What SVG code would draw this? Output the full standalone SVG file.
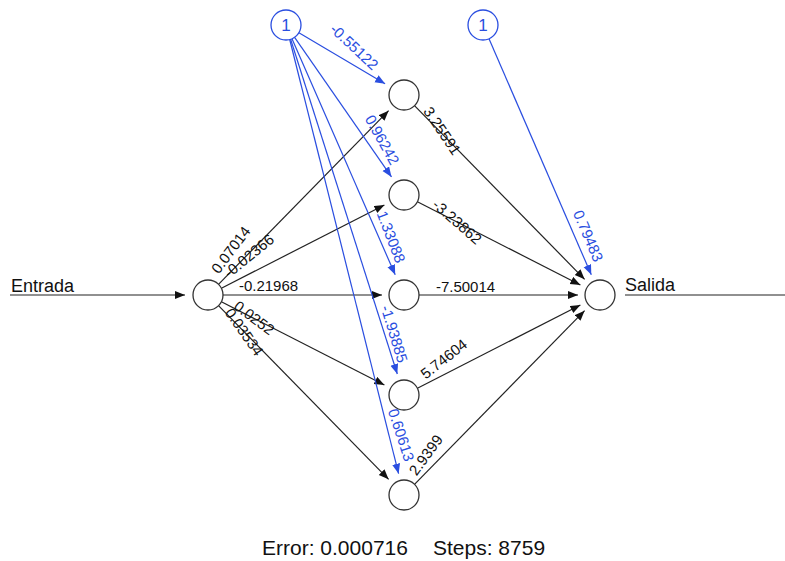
<svg xmlns="http://www.w3.org/2000/svg" width="785" height="561" viewBox="0 0 785 561">
  <defs>
    <marker id="arrow-k" markerUnits="userSpaceOnUse" markerWidth="11" markerHeight="9" refX="10" refY="4" orient="auto">
      <path d="M0,0 L10,4 L0,8 z" fill="#111"/>
    </marker>
    <marker id="arrow-b" markerUnits="userSpaceOnUse" markerWidth="11" markerHeight="9" refX="10" refY="4" orient="auto">
      <path d="M0,0 L10,4 L0,8 z" fill="#2a4ee0"/>
    </marker>
    <style>
      .node { fill: #fff; stroke: #333; stroke-width: 1.3; }
      .bias { fill: #fff; stroke: #2a4ee0; stroke-width: 1.3; }
      .syn { stroke: #222; stroke-width: 1.2; fill: none; marker-end: url(#arrow-k); }
      .bsyn { stroke: #2a4ee0; stroke-width: 1.2; fill: none; marker-end: url(#arrow-b); }
      .plain { stroke: #222; stroke-width: 1.2; fill: none; }
      .w { font-family: "Liberation Sans", Arial, sans-serif; font-size: 15px; fill: #111; text-anchor: middle; }
      .bw { font-family: "Liberation Sans", Arial, sans-serif; font-size: 15px; fill: #2a4ee0; text-anchor: middle; }
      .io { font-family: "Liberation Sans", Arial, sans-serif; font-size: 18px; fill: #111; }
      .one { font-family: "Liberation Sans", Arial, sans-serif; font-size: 17px; fill: #2a4ee0; text-anchor: middle; }
      .foot { font-family: "Liberation Sans", Arial, sans-serif; font-size: 21px; fill: #111; }
    </style>
  </defs>
  <rect width="785" height="561" fill="#fff"/>

  <!-- connectors -->
  <g id="connectors">
    <!-- input line and output line -->
    <line class="syn" x1="10" y1="295" x2="185" y2="295"/>
    <line class="plain" x1="625" y1="295" x2="785" y2="295"/>
    <!-- input to hidden -->
    <line class="syn" x1="218.5" y1="284.3" x2="388.6" y2="110.7"/>
    <line class="syn" x1="221.4" y1="288.2" x2="384.4" y2="205"/>
    <line class="syn" x1="223" y1="295" x2="382" y2="295"/>
    <line class="syn" x1="221.4" y1="301.8" x2="384.4" y2="385"/>
    <line class="syn" x1="218.5" y1="305.7" x2="388.6" y2="479.3"/>
    <!-- hidden to output -->
    <line class="syn" x1="414.5" y1="105.7" x2="584.6" y2="279.3"/>
    <line class="syn" x1="417.4" y1="201.8" x2="580.4" y2="285"/>
    <line class="syn" x1="419" y1="295" x2="578" y2="295"/>
    <line class="syn" x1="417.4" y1="388.2" x2="580.4" y2="305"/>
    <line class="syn" x1="414.5" y1="484.3" x2="584.6" y2="310.7"/>
    <!-- bias to hidden -->
    <line class="bsyn" x1="298.9" y1="32.7" x2="385.1" y2="83.8"/>
    <line class="bsyn" x1="294.6" y1="37.3" x2="391.5" y2="176.9"/>
    <line class="bsyn" x1="292" y1="38.7" x2="395.2" y2="274.8"/>
    <line class="bsyn" x1="290.6" y1="39.3" x2="397.3" y2="374"/>
    <line class="bsyn" x1="289.7" y1="39.5" x2="398.6" y2="473.7"/>
    <!-- bias to output -->
    <line class="bsyn" x1="489" y1="38.8" x2="591.3" y2="274.8"/>
  </g>

  <!-- weight labels -->
  <g id="weights">
    <text class="w" transform="translate(231,250) rotate(-53)" y="5">0.07014</text>
    <text class="w" transform="translate(249,256) rotate(-39)" y="5">-0.02366</text>
    <text class="w" x="268.5" y="291">-0.21968</text>
    <text class="w" transform="translate(254,318) rotate(37)" y="5">0.0252</text>
    <text class="w" transform="translate(244,332) rotate(55)" y="5">0.03534</text>
    <text class="w" transform="translate(442,131) rotate(56)" y="5">3.25591</text>
    <text class="w" transform="translate(457,222) rotate(41)" y="5">-3.23862</text>
    <text class="w" x="465.5" y="292">-7.50014</text>
    <text class="w" transform="translate(444,359) rotate(-38)" y="5">5.74604</text>
    <text class="w" transform="translate(426,455) rotate(-54)" y="5">2.9399</text>
    <text class="bw" transform="translate(354,47) rotate(43)" y="5">-0.55122</text>
    <text class="bw" transform="translate(382,140) rotate(61)" y="5">0.96242</text>
    <text class="bw" transform="translate(391,237) rotate(69)" y="5">1.33088</text>
    <text class="bw" transform="translate(394,334) rotate(73)" y="5">-1.93885</text>
    <text class="bw" transform="translate(401,435) rotate(72)" y="5">0.60613</text>
    <text class="bw" transform="translate(588,236) rotate(67)" y="5">0.79483</text>
  </g>

  <!-- nodes -->
  <g id="input">
    <circle class="node" cx="208" cy="295" r="15"/>
    <text class="io" x="11" y="292">Entrada</text>
  </g>
  <g id="hidden1"><circle class="node" cx="404" cy="95" r="15"/></g>
  <g id="hidden2"><circle class="node" cx="404" cy="195" r="15"/></g>
  <g id="hidden3"><circle class="node" cx="404" cy="295" r="15"/></g>
  <g id="hidden4"><circle class="node" cx="404" cy="395" r="15"/></g>
  <g id="hidden5"><circle class="node" cx="404" cy="495" r="15"/></g>
  <g id="output">
    <circle class="node" cx="600" cy="295" r="15"/>
    <text class="io" x="625" y="291">Salida</text>
  </g>
  <g id="bias1">
    <circle class="bias" cx="286" cy="25" r="15"/>
    <text class="one" x="286" y="31">1</text>
  </g>
  <g id="bias2">
    <circle class="bias" cx="483" cy="25" r="15"/>
    <text class="one" x="483" y="31">1</text>
  </g>

  <!-- summary -->
  <text class="foot" x="262" y="555">Error: 0.000716</text>
  <text class="foot" x="433" y="555">Steps: 8759</text>
</svg>
